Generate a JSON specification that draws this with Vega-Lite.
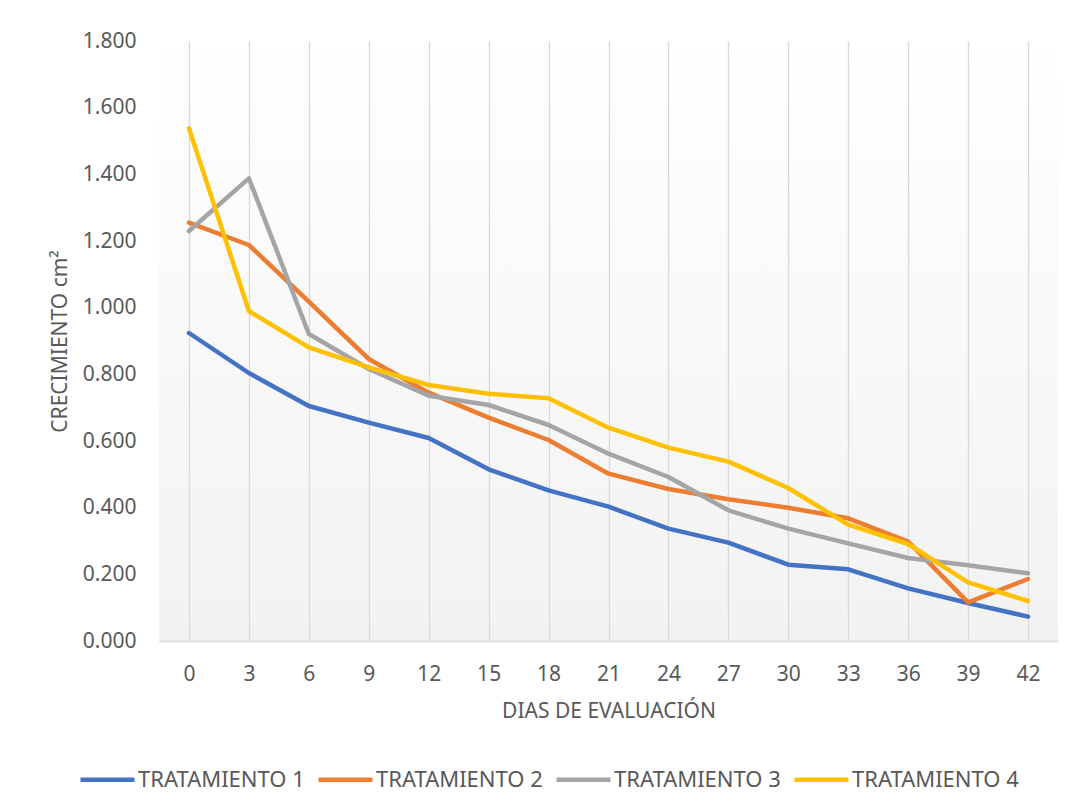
{
  "$schema": "https://vega.github.io/schema/vega-lite/v6.json",
  "width": 899,
  "height": 600,
  "autosize": {"type": "none"},
  "padding": {"left": 159, "top": 41, "right": 13, "bottom": 171},
  "background": "white",
  "config": {
    "font": "Noto Sans",
    "view": {
      "stroke": null,
      "fill": {"gradient": "linear", "x1": 0, "y1": 0, "x2": 0, "y2": 1, "stops": [{"offset": 0, "color": "#ffffff"}, {"offset": 1, "color": "#f2f2f2"}]}
    }
  },
  "data": {
    "values": [
      {"dia": 0, "serie": "TRATAMIENTO 1", "valor": 0.924},
      {"dia": 3, "serie": "TRATAMIENTO 1", "valor": 0.804},
      {"dia": 6, "serie": "TRATAMIENTO 1", "valor": 0.705},
      {"dia": 9, "serie": "TRATAMIENTO 1", "valor": 0.655},
      {"dia": 12, "serie": "TRATAMIENTO 1", "valor": 0.609},
      {"dia": 15, "serie": "TRATAMIENTO 1", "valor": 0.515},
      {"dia": 18, "serie": "TRATAMIENTO 1", "valor": 0.452},
      {"dia": 21, "serie": "TRATAMIENTO 1", "valor": 0.403},
      {"dia": 24, "serie": "TRATAMIENTO 1", "valor": 0.337},
      {"dia": 27, "serie": "TRATAMIENTO 1", "valor": 0.295},
      {"dia": 30, "serie": "TRATAMIENTO 1", "valor": 0.229},
      {"dia": 33, "serie": "TRATAMIENTO 1", "valor": 0.215},
      {"dia": 36, "serie": "TRATAMIENTO 1", "valor": 0.158},
      {"dia": 39, "serie": "TRATAMIENTO 1", "valor": 0.114},
      {"dia": 42, "serie": "TRATAMIENTO 1", "valor": 0.073},
      {"dia": 0, "serie": "TRATAMIENTO 2", "valor": 1.255},
      {"dia": 3, "serie": "TRATAMIENTO 2", "valor": 1.188},
      {"dia": 6, "serie": "TRATAMIENTO 2", "valor": 1.018},
      {"dia": 9, "serie": "TRATAMIENTO 2", "valor": 0.846},
      {"dia": 12, "serie": "TRATAMIENTO 2", "valor": 0.745},
      {"dia": 15, "serie": "TRATAMIENTO 2", "valor": 0.670},
      {"dia": 18, "serie": "TRATAMIENTO 2", "valor": 0.603},
      {"dia": 21, "serie": "TRATAMIENTO 2", "valor": 0.502},
      {"dia": 24, "serie": "TRATAMIENTO 2", "valor": 0.456},
      {"dia": 27, "serie": "TRATAMIENTO 2", "valor": 0.425},
      {"dia": 30, "serie": "TRATAMIENTO 2", "valor": 0.400},
      {"dia": 33, "serie": "TRATAMIENTO 2", "valor": 0.368},
      {"dia": 36, "serie": "TRATAMIENTO 2", "valor": 0.298},
      {"dia": 39, "serie": "TRATAMIENTO 2", "valor": 0.116},
      {"dia": 42, "serie": "TRATAMIENTO 2", "valor": 0.186},
      {"dia": 0, "serie": "TRATAMIENTO 3", "valor": 1.230},
      {"dia": 3, "serie": "TRATAMIENTO 3", "valor": 1.388},
      {"dia": 6, "serie": "TRATAMIENTO 3", "valor": 0.921},
      {"dia": 9, "serie": "TRATAMIENTO 3", "valor": 0.816},
      {"dia": 12, "serie": "TRATAMIENTO 3", "valor": 0.736},
      {"dia": 15, "serie": "TRATAMIENTO 3", "valor": 0.708},
      {"dia": 18, "serie": "TRATAMIENTO 3", "valor": 0.648},
      {"dia": 21, "serie": "TRATAMIENTO 3", "valor": 0.562},
      {"dia": 24, "serie": "TRATAMIENTO 3", "valor": 0.492},
      {"dia": 27, "serie": "TRATAMIENTO 3", "valor": 0.392},
      {"dia": 30, "serie": "TRATAMIENTO 3", "valor": 0.337},
      {"dia": 33, "serie": "TRATAMIENTO 3", "valor": 0.293},
      {"dia": 36, "serie": "TRATAMIENTO 3", "valor": 0.249},
      {"dia": 39, "serie": "TRATAMIENTO 3", "valor": 0.227},
      {"dia": 42, "serie": "TRATAMIENTO 3", "valor": 0.203},
      {"dia": 0, "serie": "TRATAMIENTO 4", "valor": 1.538},
      {"dia": 3, "serie": "TRATAMIENTO 4", "valor": 0.990},
      {"dia": 6, "serie": "TRATAMIENTO 4", "valor": 0.881},
      {"dia": 9, "serie": "TRATAMIENTO 4", "valor": 0.821},
      {"dia": 12, "serie": "TRATAMIENTO 4", "valor": 0.768},
      {"dia": 15, "serie": "TRATAMIENTO 4", "valor": 0.742},
      {"dia": 18, "serie": "TRATAMIENTO 4", "valor": 0.728},
      {"dia": 21, "serie": "TRATAMIENTO 4", "valor": 0.640},
      {"dia": 24, "serie": "TRATAMIENTO 4", "valor": 0.580},
      {"dia": 27, "serie": "TRATAMIENTO 4", "valor": 0.538},
      {"dia": 30, "serie": "TRATAMIENTO 4", "valor": 0.459},
      {"dia": 33, "serie": "TRATAMIENTO 4", "valor": 0.349},
      {"dia": 36, "serie": "TRATAMIENTO 4", "valor": 0.291},
      {"dia": 39, "serie": "TRATAMIENTO 4", "valor": 0.176},
      {"dia": 42, "serie": "TRATAMIENTO 4", "valor": 0.120}
    ]
  },
  "mark": {"type": "line", "strokeWidth": 4.5, "strokeCap": "round", "strokeJoin": "round"},
  "encoding": {
    "x": {
      "field": "dia",
      "type": "ordinal",
      "scale": {"type": "point", "padding": 0.5},
      "axis": {
        "title": "DIAS DE EVALUACIÓN",
        "labelAngle": 0,
        "grid": true,
        "gridColor": "#d9d9d9",
        "gridWidth": 1.3,
        "domainColor": "#d9d9d9",
        "domainWidth": 1.3,
        "ticks": false,
        "labelPadding": 22,
        "labelFontSize": 21,
        "labelColor": "#595959",
        "titleFontSize": 21,
        "titleFontWeight": "normal",
        "titleColor": "#595959",
        "titlePadding": 16
      }
    },
    "y": {
      "field": "valor",
      "type": "quantitative",
      "scale": {"domain": [0, 1.8]},
      "axis": {
        "title": "CRECIMIENTO cm²",
        "values": [0, 0.2, 0.4, 0.6, 0.8, 1.0, 1.2, 1.4, 1.6, 1.8],
        "format": ".3f",
        "grid": false,
        "domain": false,
        "ticks": false,
        "labelPadding": 23,
        "labelFontSize": 21,
        "labelColor": "#595959",
        "titleFontSize": 21,
        "titleFontWeight": "normal",
        "titleColor": "#595959",
        "titlePadding": 12
      }
    },
    "color": {
      "field": "serie",
      "type": "nominal",
      "scale": {
        "domain": ["TRATAMIENTO 1", "TRATAMIENTO 2", "TRATAMIENTO 3", "TRATAMIENTO 4"],
        "range": ["#4472C4", "#ED7D31", "#A5A5A5", "#FFC000"]
      },
      "legend": {
        "orient": "none",
        "legendX": -81,
        "legendY": 709,
        "direction": "horizontal",
        "title": null,
        "symbolType": "stroke",
        "symbolSize": 2916,
        "symbolStrokeWidth": 4.5,
        "labelFontSize": 22,
        "labelLimit": 400,
        "labelColor": "#595959",
        "labelOffset": 1,
        "columnPadding": 4,
        "padding": 0
      }
    }
  }
}
